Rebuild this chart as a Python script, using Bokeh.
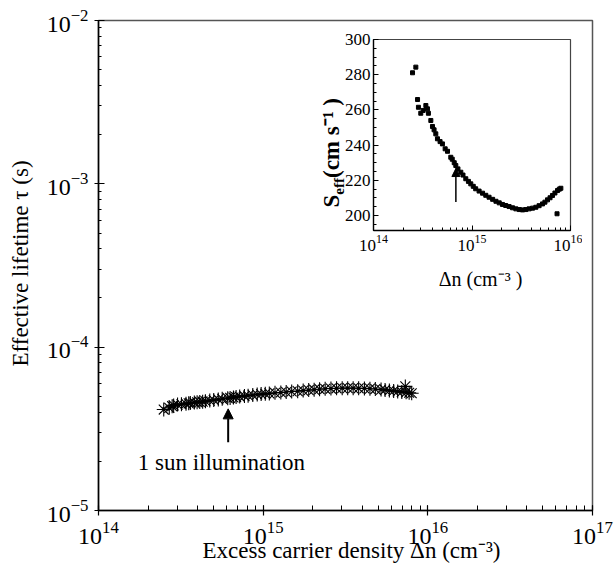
import math
from bokeh.plotting import figure
from bokeh.models import Range1d, Label, Arrow, NormalHead, LogTicker, SingleIntervalTicker
from bokeh.embed import file_html
from bokeh.resources import INLINE

# ---------------- data ----------------
dn = [2.49e14, 2.69e14, 2.80e14, 2.86e14, 3.02e14, 3.19e14, 3.40e14, 3.53e14, 3.61e14,
      3.82e14, 3.97e14, 4.12e14, 4.29e14, 4.46e14, 4.74e14, 5.01e14, 5.34e14, 5.64e14,
      6.09e14, 6.30e14, 6.60e14, 6.85e14, 7.20e14, 7.70e14, 8.10e14, 8.65e14, 9.20e14,
      9.72e14, 1.03e15, 1.09e15, 1.18e15, 1.28e15, 1.38e15, 1.49e15, 1.62e15, 1.75e15,
      1.89e15, 2.04e15, 2.20e15, 2.38e15, 2.58e15, 2.79e15, 3.02e15, 3.26e15, 3.52e15,
      3.80e15, 4.12e15, 4.45e15, 4.80e15, 5.20e15, 5.50e15, 5.84e15, 6.20e15, 6.56e15,
      6.95e15, 7.38e15, 7.70e15, 7.98e15, 7.30e15]

seff = [281.1, 284.3, 265.9, 261.5, 258.1, 259.7, 262.5, 260.6, 258.1,
        254.0, 250.6, 248.7, 246.4, 243.6, 242.0, 240.7, 237.9, 236.5,
        233.1, 232.0, 230.0, 228.4, 226.5, 224.6, 223.0, 220.9, 219.4,
        218.0, 216.6, 215.2, 213.9, 212.7, 211.5, 210.4, 209.2, 208.1,
        207.2, 206.3, 205.7, 205.1, 204.4, 203.8, 203.4, 203.2, 203.4,
        203.8, 204.2, 204.7, 205.6, 206.6, 207.6, 208.9, 210.1, 211.4,
        212.8, 214.2, 215.0, 215.5, 201.0]

tau = [4.15e-5, 4.25e-5, 4.35e-5, 4.40e-5, 4.45e-5, 4.47e-5, 4.50e-5, 4.53e-5, 4.55e-5,
       4.58e-5, 4.60e-5, 4.62e-5, 4.64e-5, 4.67e-5, 4.71e-5, 4.75e-5, 4.79e-5, 4.83e-5,
       4.87e-5, 4.89e-5, 4.92e-5, 4.95e-5, 4.98e-5, 5.02e-5, 5.05e-5, 5.09e-5, 5.13e-5,
       5.16e-5, 5.18e-5, 5.21e-5, 5.25e-5, 5.28e-5, 5.31e-5, 5.35e-5, 5.38e-5, 5.42e-5,
       5.46e-5, 5.49e-5, 5.53e-5, 5.56e-5, 5.58e-5, 5.60e-5, 5.61e-5, 5.61e-5, 5.61e-5,
       5.60e-5, 5.59e-5, 5.57e-5, 5.54e-5, 5.50e-5, 5.47e-5, 5.43e-5, 5.40e-5, 5.36e-5,
       5.32e-5, 5.29e-5, 5.26e-5, 5.22e-5, 5.75e-5]

# annotation anchors
sun_arrow_dn = 6.13e14
sun_arrow_tau = (2.62e-5, 4.19e-5)
sun_text_pos = (1.73e14, 1.97e-5)
inset_arrow_dn = 6.86e14
inset_arrow_s = (207.7, 226.7)

FONT = "Liberation Serif"

# ---------------- main figure ----------------
p = figure(x_axis_type="log", y_axis_type="log",
           x_range=Range1d(1e14, 1e17), y_range=Range1d(1e-5, 1e-2),
           frame_width=494, frame_height=490,
           min_border_left=98, min_border_right=22, min_border_top=20, min_border_bottom=54,
           output_backend="svg", toolbar_location=None)
p.xgrid.visible = False
p.ygrid.visible = False
p.outline_line_color = "#555555"
p.outline_line_width = 1.5
p.background_fill_color = "white"
p.border_fill_color = "white"

p.xaxis.ticker = LogTicker(desired_num_ticks=4, num_minor_ticks=10)
p.yaxis.ticker = LogTicker(desired_num_ticks=4, num_minor_ticks=10)
for ax in (p.xaxis[0], p.yaxis[0]):
    ax.axis_line_width = 1.5
    ax.axis_line_color = "black"
    ax.major_tick_line_color = "black"
    ax.minor_tick_line_color = "black"
    ax.major_tick_line_width = 1.2
    ax.minor_tick_line_width = 1
    ax.major_label_text_font = FONT
    ax.major_label_text_font_size = "24px"
    ax.major_label_text_color = "black"
p.xaxis.major_tick_in = 5
p.xaxis.major_tick_out = 5
p.xaxis.minor_tick_in = 5
p.xaxis.minor_tick_out = 0
p.xaxis.major_label_standoff = 6
p.yaxis.major_tick_in = 6
p.yaxis.major_tick_out = 4
p.yaxis.minor_tick_in = 3
p.yaxis.minor_tick_out = 0
p.yaxis.major_label_standoff = 6

p.scatter(dn, tau, marker="asterisk", size=14, line_color="black", line_width=1.1)

p.add_layout(Arrow(end=NormalHead(size=10, fill_color="black", line_color="black"),
                   x_start=sun_arrow_dn, y_start=sun_arrow_tau[0],
                   x_end=sun_arrow_dn, y_end=sun_arrow_tau[1],
                   line_width=2, line_color="black"))
p.add_layout(Label(x=sun_text_pos[0], y=sun_text_pos[1], text="1 sun illumination",
                   text_font=FONT, text_font_size="23px", text_baseline="alphabetic",
                   text_align="left", text_color="black"))
p.styles = {"position": "absolute", "left": "0px", "top": "0px"}

# ---------------- inset ----------------
inset = figure(x_axis_type="log",
               x_range=Range1d(1e14, 1e16), y_range=Range1d(191.5, 300),
               frame_width=197, frame_height=191,
               min_border_left=60, min_border_right=12, min_border_top=10, min_border_bottom=62,
               output_backend="svg", toolbar_location=None)
inset.xgrid.visible = False
inset.ygrid.visible = False
inset.outline_line_color = "#444444"
inset.outline_line_width = 1.2
inset.background_fill_color = None
inset.border_fill_color = None
inset.xaxis.ticker = LogTicker(desired_num_ticks=3, num_minor_ticks=10)
inset.yaxis.ticker = SingleIntervalTicker(interval=20, num_minor_ticks=4)
for ax in (inset.xaxis[0], inset.yaxis[0]):
    ax.axis_line_width = 1.3
    ax.axis_line_color = "black"
    ax.major_tick_line_color = "black"
    ax.minor_tick_line_color = "black"
    ax.major_tick_in = 5
    ax.major_tick_out = 0
    ax.minor_tick_in = 3
    ax.minor_tick_out = 0
    ax.major_label_text_font = FONT
    ax.major_label_text_font_size = "17px"
    ax.major_label_text_color = "black"
inset.xaxis.major_label_standoff = 4
inset.yaxis.major_label_standoff = 3

inset.scatter(dn, seff, marker="square", size=4, color="black")
inset.add_layout(Arrow(end=NormalHead(size=8, fill_color="black", line_color="black"),
                       x_start=inset_arrow_dn, y_start=inset_arrow_s[0],
                       x_end=inset_arrow_dn, y_end=inset_arrow_s[1],
                       line_width=1.5, line_color="black"))
inset.styles = {"position": "absolute", "left": "313px", "top": "29px"}

# ---------------- axis titles (transparent overlay in page pixels) ----------------
ov = figure(x_range=Range1d(0, 614), y_range=Range1d(564, 0), width=614, height=564,
            min_border=0, x_axis_location=None, y_axis_location=None,
            output_backend="svg", toolbar_location=None)
ov.xgrid.visible = False
ov.ygrid.visible = False
ov.outline_line_color = None
ov.background_fill_color = None
ov.border_fill_color = None
ov.styles = {"position": "absolute", "left": "0px", "top": "0px", "pointer-events": "none"}

titles = [
    ("Excess carrier density \u0394n (cm\u207b\u00b3)", 351, 550, 0, "23px", "normal", "center"),
    ("Effective lifetime \u03c4 (s)", 20, 263, math.pi / 2, "23px", "normal", "center"),
    ("\u0394n (cm\u207b\u00b3 )", 480, 278, 0, "20px", "normal", "center"),
    ("S", 331, 207, math.pi / 2, "23px", "bold", "left"),
    ("eff", 338, 194.2, math.pi / 2, "15px", "bold", "left"),
    (" (cm s\u207b\u00b9 )", 331, 177.5, math.pi / 2, "23px", "bold", "left"),
]
for txt, tx, ty, ang, fs, fw, al in titles:
    ov.add_layout(Label(x=tx, y=ty, text=txt, angle=ang, text_font=FONT, text_font_size=fs,
                        text_font_style=fw, text_align=al, text_baseline="middle",
                        text_color="black"))

open("out.html", "w").write(file_html([p, inset, ov], INLINE))
